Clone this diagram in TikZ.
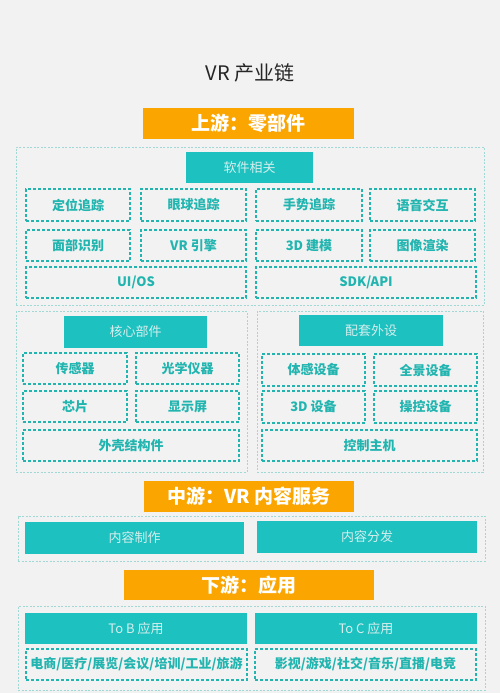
\documentclass[tikz,border=0pt]{standalone}
\usepackage{fontspec}
\setmainfont{Noto Sans CJK SC}
\definecolor{bgc}{HTML}{F2F2F2}
\definecolor{orng}{HTML}{FBA500}
\definecolor{tealf}{HTML}{1DC2C0}
\definecolor{tealt}{HTML}{22B5B0}
\definecolor{pale}{HTML}{9FD8D4}
\definecolor{lightt}{HTML}{D6EEEE}
\tikzset{
  frame/.style={draw=pale, line width=0.7pt, dash pattern=on 2pt off 1.5pt},
  dbox/.style={draw=tealt, line width=1.1pt, dash pattern=on 3pt off 2pt, text=tealt, font=\fontsize{13}{13}\selectfont\bfseries},
  tbox/.style={fill=tealf, text=lightt, font=\fontsize{13}{13}\selectfont},
  obox/.style={fill=orng, text=white, font=\fontsize{19}{19}\selectfont\bfseries},
}
\newcommand{\bx}[7]{\node[#1, inner sep=0pt, minimum width={(#5-#3)*1pt}, minimum height={(#6-#4)*1pt}] (#2) at ({(#3+#5)/2},{(#4+#6)/2}) {#7};}
\begin{document}
\begin{tikzpicture}[x=1pt,y=-1pt]
\fill[bgc] (0,0) rectangle (500,693);
\useasboundingbox (0,0) rectangle (500,693);
\node[font=\fontsize{20}{20}\selectfont, text=black!85] (title) at (250,73) {VR 产业链};
% upstream
\bx{obox}{up}{143}{108}{354}{139}{上游：零部件}
\bx{frame}{f1}{16}{147}{484}{305}{}
\bx{tbox}{soft}{186}{152}{313}{183}{软件相关}
\bx{dbox}{a1}{26}{189}{130}{221}{定位追踪}
\bx{dbox}{a2}{141}{189}{246}{221}{眼球追踪}
\bx{dbox}{a3}{256}{189}{362}{221}{手势追踪}
\bx{dbox}{a4}{370}{189}{475}{221}{语音交互}
\bx{dbox}{b1}{26}{230}{130}{261}{面部识别}
\bx{dbox}{b2}{141}{230}{246}{261}{VR 引擎}
\bx{dbox}{b3}{256}{230}{362}{261}{3D 建模}
\bx{dbox}{b4}{370}{230}{475}{261}{图像渲染}
\bx{dbox}{c1}{26}{267}{246}{298}{UI/OS}
\bx{dbox}{c2}{256}{267}{476}{298}{SDK/API}
% core
\bx{frame}{f2}{16}{311}{247}{472}{}
\bx{tbox}{core}{64}{316}{207}{348}{核心部件}
\bx{dbox}{d1}{23}{353}{127}{384}{传感器}
\bx{dbox}{d2}{136}{353}{239}{384}{光学仪器}
\bx{dbox}{d3}{23}{391}{127}{422}{芯片}
\bx{dbox}{d4}{136}{391}{239}{422}{显示屏}
\bx{dbox}{d5}{23}{430}{239}{461}{外壳结构件}
% peripherals
\bx{frame}{f3}{257}{311}{483}{472}{}
\bx{tbox}{peri}{299}{315}{443}{346}{配套外设}
\bx{dbox}{e1}{262}{354}{365}{386}{体感设备}
\bx{dbox}{e2}{374}{354}{477}{386}{全景设备}
\bx{dbox}{e3}{262}{391}{365}{423}{3D 设备}
\bx{dbox}{e4}{374}{391}{477}{423}{操控设备}
\bx{dbox}{e5}{262}{430}{477}{461}{控制主机}
% midstream
\bx{obox}{mid}{144}{481}{354}{512}{中游：VR 内容服务}
\bx{frame}{f4}{18}{516}{485}{561}{}
\bx{tbox}{m1}{25}{522}{244}{554}{内容制作}
\bx{tbox}{m2}{257}{521}{477}{553}{内容分发}
% downstream
\bx{obox}{down}{124}{570}{374}{600}{下游：应用}
\bx{frame}{f5}{18}{606}{485}{690}{}
\bx{tbox}{tb}{25}{613}{247}{644}{To B 应用}
\bx{tbox}{tc}{255}{613}{477}{644}{To C 应用}
\bx{dbox}{g1}{26}{649}{247}{680}{电商/医疗/展览/会议/培训/工业/旅游}
\bx{dbox}{g2}{255}{649}{476}{680}{影视/游戏/社交/音乐/直播/电竞}
\end{tikzpicture}
\end{document}
